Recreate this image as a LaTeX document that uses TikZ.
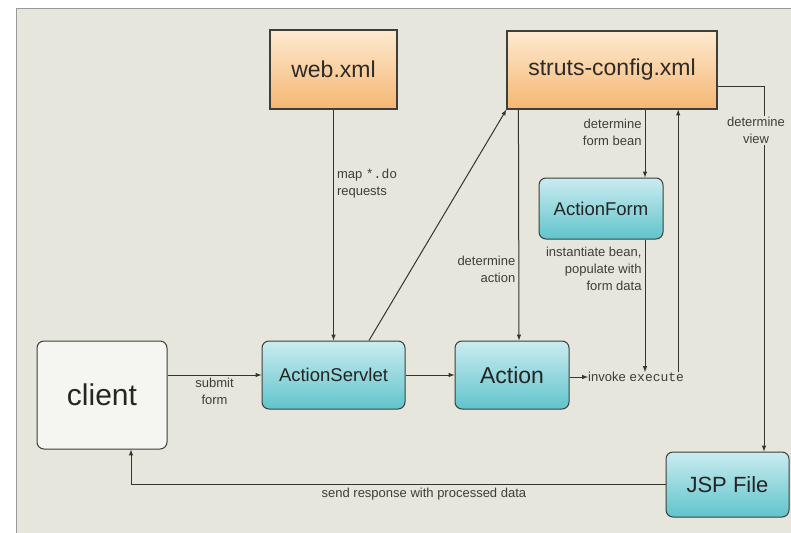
\documentclass[tikz,border=0pt]{standalone}
\usepackage{fontspec}
\setmainfont{Liberation Sans}
\setmonofont{Liberation Mono}
\usetikzlibrary{arrows, positioning}

\definecolor{panel}{RGB}{230,230,220}
\definecolor{orangetop}{RGB}{253,234,208}
\definecolor{orangebot}{RGB}{246,182,114}
\definecolor{tealtop}{RGB}{202,236,240}
\definecolor{tealbot}{RGB}{96,196,204}
\definecolor{ink}{RGB}{62,62,58}

\tikzstyle{config} = [rectangle, inner sep=0pt, draw=ink, line width=1.2pt, top color=orangetop, bottom color=orangebot, text=ink!70!black, font=\fontsize{23}{27}\selectfont]
\tikzstyle{component} = [rectangle, rounded corners=7pt, inner sep=0pt, draw=ink, line width=1pt, top color=tealtop, bottom color=tealbot, text=ink!60!black, font=\fontsize{18.5}{22}\selectfont]
\tikzstyle{browser} = [rectangle, rounded corners=7pt, inner sep=0pt, draw=ink, line width=1pt, fill=white!60!panel, text=ink!60!black, font=\fontsize{30}{34}\selectfont]
\tikzstyle{note} = [inner sep=3pt, text=ink, font=\fontsize{13}{17}\selectfont]
\tikzstyle{arrow} = [line width=1pt, draw=ink!85!black, ->, >=latex]

\begin{document}
\begin{tikzpicture}[x=1pt, y=-1pt]

\useasboundingbox (0,0) rectangle (791,532);
\draw [draw=gray!80, line width=1pt, fill=panel] (16,9) rectangle (800,545);

% xml files
\node (web) [config, minimum width=127pt, minimum height=79pt] at (333.5,69.5) {web.xml};
\node (struts) [config, minimum width=210pt, minimum height=78pt] at (612,70) {struts-config.xml};

% struts parts
\node (form) [component, minimum width=124pt, minimum height=61pt] at (601,208.5) {ActionForm};
\node (client) [browser, minimum width=130pt, minimum height=108pt] at (102,395) {client};
\node (servlet) [component, minimum width=143pt, minimum height=68pt] at (333.5,375) {ActionServlet};
\node (action) [component, minimum width=114pt, minimum height=68pt, font=\fontsize{23}{27}\selectfont] at (512,375) {Action};
\node (jsp) [component, minimum width=123pt, minimum height=65pt, font=\fontsize{22}{26}\selectfont] at (727.5,484.5) {JSP File};
\node (invoke) [note, inner sep=0pt, anchor=west] at (588,377) {invoke \texttt{execute}};

\draw [arrow] (web) -- node[note, anchor=west, align=left, pos=0.32]{map \texttt{*.do}\\requests} (servlet);
\draw [arrow] ([xshift=35.5pt]servlet.north) -- (struts.south west);
\draw [arrow] (client.east |- servlet) -- node[note, below, align=center]{submit\\form} (servlet);
\draw [arrow] (servlet) -- (action);
\draw [arrow] ([xshift=12pt]struts.south west) -- node[note, left, align=right, pos=0.69]{determine\\action} ([xshift=7pt]action.north);
\draw [arrow] ([xshift=44pt]form.north |- struts.south) -- node[note, left, align=right, pos=0.33]{determine\\form bean} ([xshift=44pt]form.north);
\draw [arrow] ([xshift=44pt]form.south) -- node[note, left, align=right, pos=0.22]{instantiate bean,\\populate with\\form data} ([xshift=44pt]form.south |- invoke.north);
\draw [arrow] (action.east |- invoke) -- (invoke.west);
\draw [arrow] ([xshift=-6pt]invoke.north east) -- ([xshift=-6pt]invoke.north east |- struts.south);
\draw [arrow] ([yshift=-17pt]struts.east) -| node[note, fill=panel, inner sep=1pt, align=center, pos=0.56, xshift=-8pt]{determine\\view} ([xshift=36.5pt]jsp.north);
\draw [arrow] (jsp.west) -| node[note, below, pos=0.226]{send response with processed data} ([xshift=29pt]client.south);

\end{tikzpicture}
\end{document}
